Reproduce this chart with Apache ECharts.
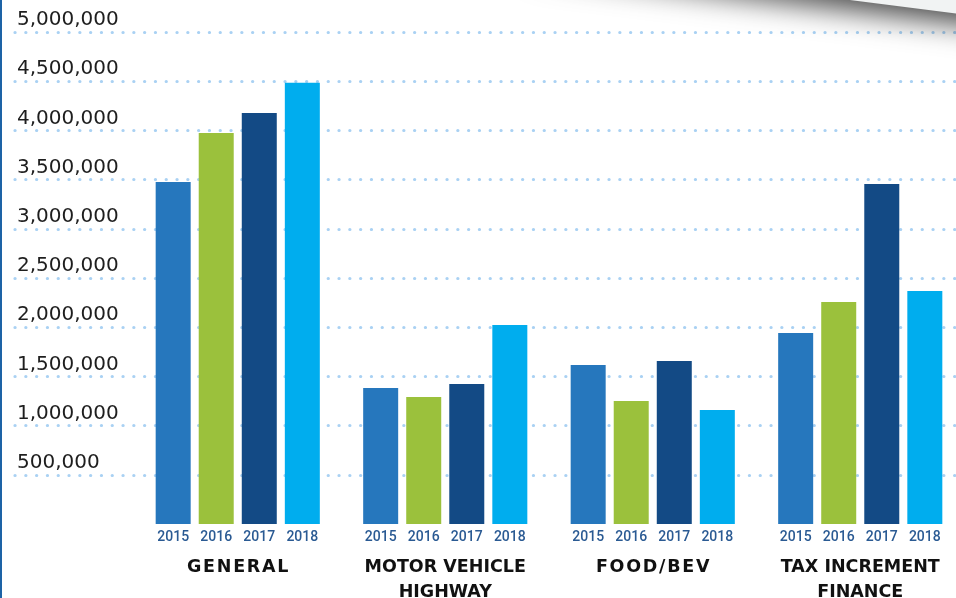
<!DOCTYPE html>
<html>
<head>
<meta charset="utf-8">
<script src="https://cdn.jsdelivr.net/npm/echarts@6/dist/echarts.min.js"></script>
<style>
  html, body { margin: 0; padding: 0; background: #fff; }
  #chart { width: 954px; height: 598px; border-left: 2px solid #1d63a6; }
</style>
</head>
<body>
<div id="chart"></div>
<script>
// funds and yearly totals
const categories = ['GENERAL', 'MOTOR VEHICLE\nHIGHWAY', 'FOOD/BEV', 'TAX INCREMENT\nFINANCE']
const years = ['2015', '2016', '2017', '2018']
const v2015 = [3476000, 1382000, 1616000, 1941000]
const v2016 = [3974000, 1291000, 1250000, 2256000]
const v2017 = [4177000, 1423000, 1657000, 3455000]
const v2018 = [4485000, 2022000, 1159000, 2368000]
const yearColors = ['#2677bd', '#9bc13c', '#134a85', '#00adee']

const values = [v2015, v2016, v2017, v2018]
const wide = ['GENERAL', 'FOOD/BEV']

const chart = echarts.init(document.getElementById('chart'))

const fmt = v => v === 0 ? '' : v.toString().replace(/\B(?=(\d{3})+(?!\d))/g, ',')

chart.setOption({
  animation: false,
  // page-curl shadow in the top right corner
  graphic: [{
    type: 'polygon',
    shape: { points: [[520, -40], [990, -40], [990, 18], [840, -1]] },
    style: {
      fill: '#f1f3f3',
      shadowBlur: 30,
      shadowColor: 'rgba(0,0,0,0.75)',
      shadowOffsetY: 9
    },
    z: 100
  }],
  grid: [
    { left: 13, right: 0, top: 32, bottom: 74, outerBoundsMode: 'none' },
    { left: 132, width: 830, top: 32, bottom: 74, outerBoundsMode: 'none' }
  ],
  xAxis: [
    { gridIndex: 0, type: 'value', show: false },
    {
      gridIndex: 1,
      type: 'category',
      data: categories,
      axisLine: { show: false },
      axisTick: { show: false },
      axisLabel: {
        interval: 0,
        hideOverlap: false,
        margin: 31,
        fontFamily: 'DejaVu Sans',
        fontWeight: 'bold',
        fontSize: 17.5,
        lineHeight: 25,
        color: '#111',
        formatter: v => wide.includes(v) ? v.split('').join('\u200A') : v
      }
    }
  ],
  yAxis: [
    {
      gridIndex: 0,
      type: 'value',
      min: 0, max: 5000000, interval: 500000,
      axisLine: { show: false },
      axisTick: { show: false },
      axisLabel: {
        inside: true,
        margin: 2,
        verticalAlign: 'bottom',
        padding: [0, 0, 2, 0],
        fontFamily: 'DejaVu Sans',
        fontSize: 20,
        color: '#1e1e1e',
        formatter: fmt
      },
      splitLine: {
        showMinLine: false,
        lineStyle: { color: '#a9d1f3', width: 3.2, type: [0.1, 10.7], cap: 'round' }
      }
    },
    {
      gridIndex: 1,
      type: 'value',
      min: 0, max: 5000000, interval: 500000,
      show: false,
      splitLine: { show: false }
    }
  ],
  series: years.map((y, i) => ({
    name: y,
    type: 'bar',
    xAxisIndex: 1,
    yAxisIndex: 1,
    data: values[i],
    barWidth: 35,
    barGap: '23%',
    itemStyle: { color: yearColors[i] },
    label: {
      show: true,
      position: 'bottom',
      distance: 6,
      formatter: '{a}',
      fontFamily: 'Roboto',
      fontWeight: 500,
      fontSize: 14,
      color: '#2a5a93'
    }
  }))
})
</script>
</body>
</html>
